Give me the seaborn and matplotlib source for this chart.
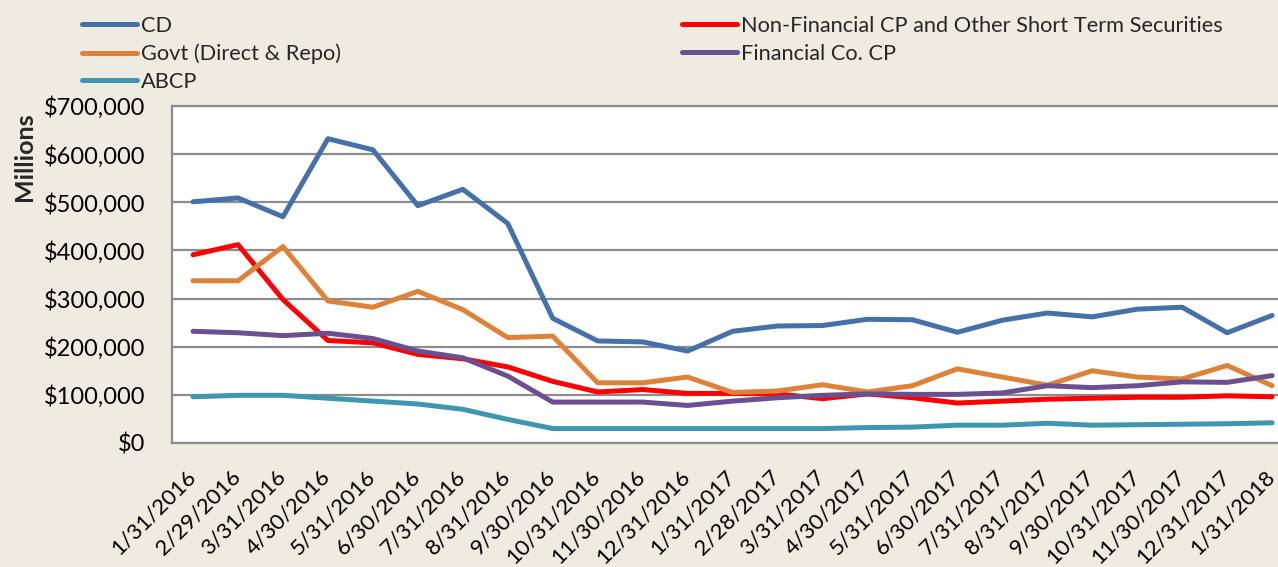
import pandas as pd
import numpy as np
import matplotlib
matplotlib.use('Agg')
import matplotlib.pyplot as plt
import matplotlib.transforms as mtransforms
import seaborn as sns
from matplotlib.ticker import FuncFormatter

# ── Data ($ millions in thousands) ───────────────────────────────────────────
dates = ['1/31/2016', '2/29/2016', '3/31/2016', '4/30/2016', '5/31/2016',
         '6/30/2016', '7/31/2016', '8/31/2016', '9/30/2016', '10/31/2016',
         '11/30/2016', '12/31/2016', '1/31/2017', '2/28/2017', '3/31/2017',
         '4/30/2017', '5/31/2017', '6/30/2017', '7/31/2017', '8/31/2017',
         '9/30/2017', '10/31/2017', '11/30/2017', '12/31/2017', '1/31/2018']

cd = [501, 509, 470, 632, 609, 493, 527, 456, 259, 212, 210, 191, 232,
      243, 244, 257, 256, 230, 255, 270, 262, 278, 282, 229, 265]
non_fin_cp = [391, 412, 298, 213, 208, 184, 175, 158, 128, 106, 111, 103, 103,
              102, 92, 102, 94, 83, 87, 91, 93, 95, 95, 98, 96]
govt = [337, 337, 408, 295, 282, 315, 277, 219, 222, 125, 125, 137, 105,
        108, 121, 106, 119, 154, 137, 120, 150, 137, 133, 161, 119]
fin_cp = [232, 229, 223, 228, 217, 191, 177, 139, 85, 85, 85, 78, 87,
          94, 99, 102, 101, 101, 104, 119, 115, 119, 127, 126, 140]
abcp = [96, 99, 99, 93, 87, 81, 70, 49, 30, 30, 30, 30, 30,
        30, 30, 32, 33, 37, 37, 41, 37, 38, 39, 40, 42]

series_names = ['CD', 'Non-Financial CP and Other Short Term Securities',
                'Govt (Direct & Repo)', 'Financial Co. CP', 'ABCP']
series_vals = [cd, non_fin_cp, govt, fin_cp, abcp]
colors = ['#4570A8', '#FF0000', '#DE823A', '#6A5090', '#3E97AF']

df = pd.concat([pd.DataFrame({'date': dates,
                              'value': np.array(v) * 1000,
                              'series': n})
                for n, v in zip(series_names, series_vals)], ignore_index=True)

# ── Plot ─────────────────────────────────────────────────────────────────────
sns.set_style('white')
plt.rcParams['font.family'] = ['Lato', 'DejaVu Sans']
bg = '#EEEBE0'
W, H = 1278, 567

fig = plt.figure(figsize=(W / 100, H / 100), dpi=100, facecolor=bg)
ax = fig.add_axes([172 / W, 1 - 443 / H, 1110 / W, 337 / H])
ax.set_facecolor('white')

sns.lineplot(data=df, x='date', y='value', hue='series', hue_order=series_names,
             palette=colors, linewidth=3.6, sort=False, ax=ax, legend=False)

ax.set_ylim(0, 700000)
ax.set_yticks(np.arange(0, 700001, 100000))
ax.yaxis.set_major_formatter(FuncFormatter(lambda v, p: f'${v:,.0f}'))
ax.set_xlim(-0.468, len(dates) - 0.78)
ax.grid(axis='y', color='#8C8C8C', linewidth=1.6)
ax.set_axisbelow(True)
for s in ax.spines.values():
    s.set_color('#8C8C8C')
    s.set_linewidth(1.6)

ax.tick_params(axis='both', length=0, colors='black')
ax.tick_params(axis='y', pad=19, labelsize=17)
ax.tick_params(axis='x', pad=17, labelsize=16)
shift = mtransforms.ScaledTranslation(-8 / 100, 0, fig.dpi_scale_trans)
for lab in ax.get_xticklabels():
    lab.set_rotation(45)
    lab.set_ha('right')
    lab.set_rotation_mode('anchor')
    lab.set_transform(lab.get_transform() + shift)
ax.set_xlabel('')
ax.set_ylabel('')
fig.text(24 / W, 1 - 157 / H, 'Millions', rotation=90, ha='center', va='center',
         fontsize=18, fontweight='bold')

# legend: two separate columns, placed like the original
handles = {n: plt.Line2D([], [], color=c, linewidth=3.6, solid_capstyle='round')
           for n, c in zip(series_names, colors)}
leg_kw = dict(loc='upper left', frameon=False, fontsize=15.7, handlelength=2.53,
              handletextpad=0.19, labelspacing=0.35, borderaxespad=0, borderpad=0)
col1 = ['CD', 'Govt (Direct & Repo)', 'ABCP']
col2 = ['Non-Financial CP and Other Short Term Securities', 'Financial Co. CP']
fig.legend([handles[n] for n in col1], col1,
           bbox_to_anchor=(82 / W, 1 - 16 / H), **leg_kw)
fig.legend([handles[n] for n in col2], col2,
           bbox_to_anchor=(682 / W, 1 - 16 / H), **leg_kw)

fig.savefig('out.png', dpi=100, facecolor=bg)
